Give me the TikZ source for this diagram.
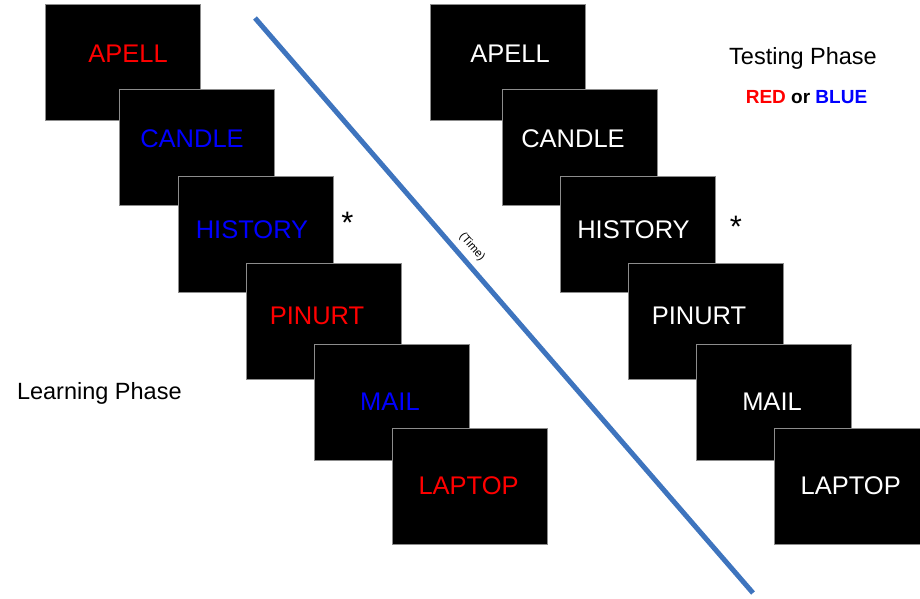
\documentclass[tikz,border=0pt]{standalone}
\usepackage{fontspec}
\setmainfont{Liberation Sans}
\definecolor{timeblue}{RGB}{62,116,190}
\definecolor{wordred}{RGB}{255,0,0}
\definecolor{wordblue}{RGB}{0,0,255}
\definecolor{slideedge}{RGB}{140,140,140}
\begin{document}
\begin{tikzpicture}[x=1pt,y=-1pt,
  slide/.style={draw=slideedge, line width=0.9pt, fill=black, minimum width=155pt, minimum height=116pt, inner sep=0pt, outer sep=0pt},
  word/.style={inner sep=0pt, outer sep=0pt, font=\fontsize{25.5}{30}\selectfont},
  phase/.style={inner sep=0pt, outer sep=0pt, font=\fontsize{23.5}{28}\selectfont},
  star/.style={inner sep=0pt, outer sep=0pt, font=\fontsize{31}{36}\selectfont, anchor=north},
  timeline/.style={draw=timeblue, line width=5pt}]
\useasboundingbox (0,0) rectangle (920,598);
\clip (0,0) rectangle (920,598);
% learning phase slides
\foreach \n/\bx/\by/\tx/\ty/\c/\w in {
  1/122.5/62.3/128/54/wordred/APELL,
  2/197/147/192/139/wordblue/CANDLE,
  3/255.5/234/252/230/wordblue/HISTORY,
  4/323.5/321/317/316/wordred/PINURT,
  5/391.5/402/390/401.5/wordblue/MAIL,
  6/469.5/486.5/468.6/485.5/wordred/LAPTOP}{
  \node[slide] (L\n) at (\bx,\by) {};
  \node[word, text=\c] (Lw\n) at (\tx,\ty) {\w};
}
% testing phase slides
\foreach \n/\bx/\by/\tx/\ty/\w in {
  1/508/62.3/510/54/APELL,
  2/579.5/147/573/139/CANDLE,
  3/637.5/234/633.5/230/HISTORY,
  4/705.5/321/699/316/PINURT,
  5/774/402/772/401.5/MAIL,
  6/851.5/486.5/850.7/485.5/LAPTOP}{
  \node[slide] (R\n) at (\bx,\by) {};
  \node[word, text=white] (Rw\n) at (\tx,\ty) {\w};
}
% asterisks
\node[star] (starL) at (347.5,212) {*};
\node[star] (starR) at (736,216) {*};
% phase labels
\node[phase, anchor=base west] (learn) at (17,399) {Learning Phase};
\node[phase, anchor=base] (test) at (803,64.5) {Testing Phase};
\node[inner sep=0pt, anchor=base, font=\fontsize{19}{23}\selectfont\bfseries] (rb) at (806.5,103.3)
  {\textcolor{wordred}{RED} or \textcolor{wordblue}{BLUE}};
% time line
\coordinate (t0) at (255,18);
\coordinate (t1) at (753,593);
\draw[timeline] (t0) -- (t1);
\node[inner sep=0pt, rotate=-49.1, font=\fontsize{11.5}{13}\selectfont] (timelbl) at (472,247) {(Time)};
\end{tikzpicture}
\end{document}
